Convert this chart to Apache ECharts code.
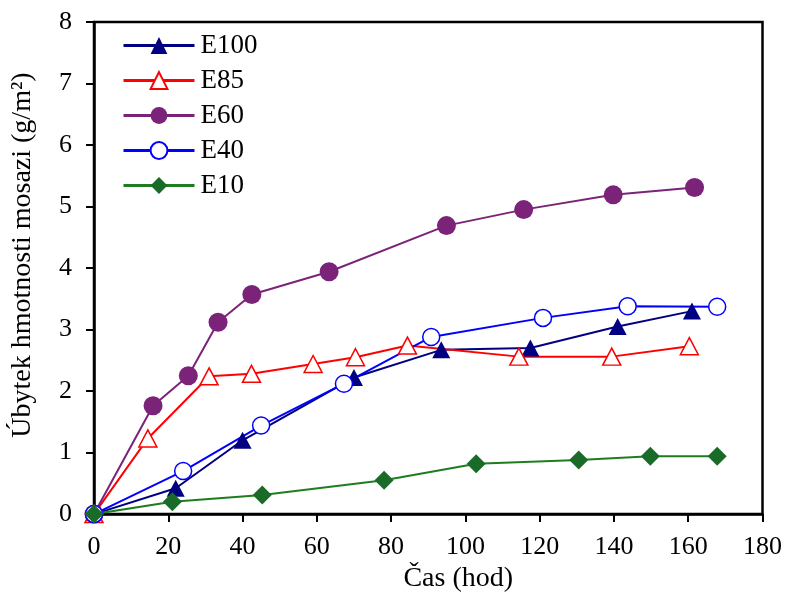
<!DOCTYPE html>
<html>
<head>
<meta charset="utf-8">
<script src="https://cdn.jsdelivr.net/npm/echarts@6/dist/echarts.min.js"></script>
<style>html,body{margin:0;padding:0;background:#fff}#c{width:785px;height:598px}</style>
</head>
<body>
<div id="c"></div>
<script>
const e100X = [0, 22, 40, 70, 93.5, 117.5, 141, 161];
const e100Y = [0, 0.42, 1.2, 2.22, 2.67, 2.7, 3.05, 3.3];
const e85X = [0, 14.5, 31, 42.4, 59, 70.4, 84.4, 114.4, 139.4, 160.3];
const e85Y = [0, 1.23, 2.24, 2.28, 2.44, 2.55, 2.74, 2.56, 2.56, 2.73];
const e60X = [0, 15.9, 25.4, 33.4, 42.5, 63.3, 94.9, 115.7, 139.8, 161.7];
const e60Y = [0, 1.76, 2.25, 3.12, 3.57, 3.94, 4.69, 4.95, 5.19, 5.31];
const e40X = [0, 24, 45, 67.3, 90.8, 120.9, 143.7, 167.8];
const e40Y = [0, 0.70, 1.44, 2.12, 2.88, 3.19, 3.38, 3.37];
const e10X = [0, 21.1, 45.3, 78.1, 102.9, 130.5, 149.8, 167.8];
const e10Y = [0, 0.2, 0.31, 0.55, 0.82, 0.88, 0.94, 0.94];
const seriesNames = ['E100', 'E85', 'E60', 'E40', 'E10'];
const xTicks = [0, 20, 40, 60, 80, 100, 120, 140, 160, 180];
const yTicks = [0, 1, 2, 3, 4, 5, 6, 7, 8];

function pairs(xs, ys) { return xs.map((x, i) => [x, ys[i]]); }
const FONT = 'Liberation Serif';

const chart = echarts.init(document.getElementById('c'), null, {renderer: 'canvas'});
chart.setOption({
  animation: false,
  backgroundColor: '#fff',
  grid: {left: 94, right: 22, top: 22, bottom: 82, show: true, borderColor: '#000', borderWidth: 2.5, backgroundColor: 'transparent'},
  legend: {
    data: seriesNames,
    orient: 'vertical',
    left: 117, top: 27,
    itemWidth: 71, itemHeight: 21, itemGap: 8,
    lineStyle: {width: 3},
    textStyle: {fontFamily: FONT, fontSize: 27, color: '#000', lineHeight: 27, padding: [0, 0, 0, 1]}
  },
  xAxis: {
    type: 'value', min: xTicks[0], max: xTicks[xTicks.length - 1], interval: 20,
    name: 'Čas (hod)', nameLocation: 'middle', nameGap: 48,
    nameTextStyle: {fontFamily: FONT, fontSize: 28, color: '#000', padding: [0, 0, 0, 60]},
    axisLine: {lineStyle: {color: '#000', width: 2.5}},
    axisTick: {inside: false, length: 8, lineStyle: {color: '#000', width: 2}},
    axisLabel: {fontFamily: FONT, fontSize: 26, color: '#000', margin: 20},
    splitLine: {show: false}
  },
  yAxis: {
    type: 'value', min: yTicks[0], max: yTicks[yTicks.length - 1], interval: 1,
    name: 'Úbytek hmotnosti mosazi (g/m²)', nameLocation: 'middle', nameGap: 57,
    nameTextStyle: {fontFamily: FONT, fontSize: 28, color: '#000', padding: [0, 0, 0, 26]},
    axisLine: {lineStyle: {color: '#000', width: 2.5}},
    axisTick: {inside: false, length: 8, lineStyle: {color: '#000', width: 2}},
    axisLabel: {fontFamily: FONT, fontSize: 26, color: '#000', margin: 22},
    splitLine: {show: false}
  },
  series: [
    {name: 'E100', type: 'line', data: pairs(e100X, e100Y), symbol: 'triangle', symbolSize: [18, 17],
     lineStyle: {color: '#000080', width: 2}, itemStyle: {color: '#000080'}},
    {name: 'E85', type: 'line', data: pairs(e85X, e85Y), symbol: 'triangle', symbolSize: [18, 17],
     lineStyle: {color: '#ff0000', width: 2}, itemStyle: {color: '#ffffff', borderColor: '#ff0000', borderWidth: 1.5}},
    {name: 'E60', type: 'line', data: pairs(e60X, e60Y), symbol: 'circle', symbolSize: 19,
     lineStyle: {color: '#7a2378', width: 2}, itemStyle: {color: '#7a2378'}},
    {name: 'E40', type: 'line', data: pairs(e40X, e40Y), symbol: 'circle', symbolSize: 17,
     lineStyle: {color: '#0000ff', width: 2}, itemStyle: {color: '#ffffff', borderColor: '#0000ff', borderWidth: 1.5}},
    {name: 'E10', type: 'line', data: pairs(e10X, e10Y), symbol: 'diamond', symbolSize: 19,
     lineStyle: {color: '#1e7d1e', width: 2}, itemStyle: {color: '#1b6b28'}}
  ]
});
</script>
</body>
</html>
